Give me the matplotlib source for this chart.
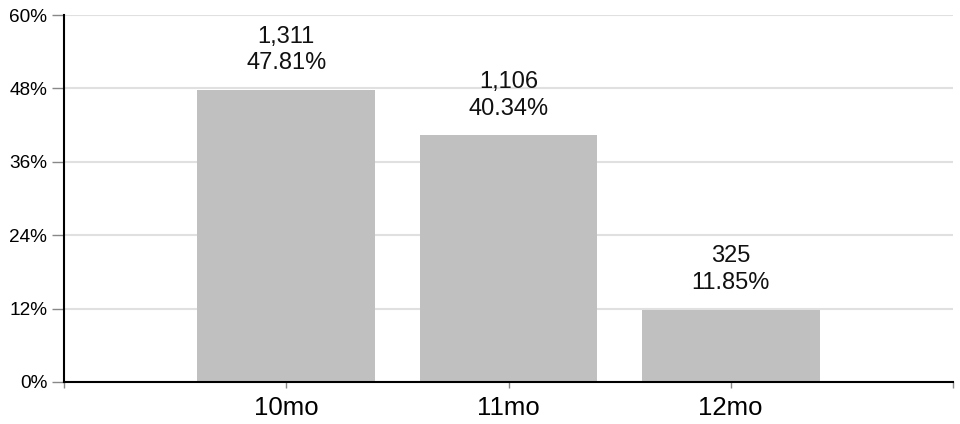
import matplotlib.pyplot as plt

plt.rcParams['font.family'] = ['Liberation Sans', 'DejaVu Sans']

categories = ["10mo", "11mo", "12mo"]
counts = [1311, 1106, 325]
percents = [47.81, 40.34, 11.85]
y_ticks = [0, 12, 24, 36, 48, 60]

fig = plt.figure(figsize=(9.6, 4.24), dpi=100)
ax = fig.add_axes([64 / 960, 42 / 424, 889 / 960, 367 / 424])

positions = [1, 2, 3]
ax.bar(positions, percents, width=0.8, color="#c0c0c0", zorder=2)

for x, c, p in zip(positions, counts, percents):
    ax.annotate(f"{c:,}\n{p:.2f}%", (x, p), xytext=(0, 11), textcoords="offset points",
                ha="center", va="bottom", fontsize=17, linespacing=1.28, color="#111111")

ax.set_xlim(0, 4)
ax.set_ylim(0, 60)
ax.set_yticks(y_ticks)
ax.set_yticklabels([f"{t}%" for t in y_ticks], fontsize=13.7)
ax.set_xticks([0] + positions + [4])
ax.set_xticklabels([""] + categories + [""], fontsize=18.5)

ax.grid(axis="y", color="#e0e0e0", linewidth=1.5, zorder=0)
ax.set_axisbelow(True)
for s in ["top", "right"]:
    ax.spines[s].set_visible(False)
for s in ["left", "bottom"]:
    ax.spines[s].set_linewidth(1.5)
    ax.spines[s].set_color("black")
    ax.spines[s].set_zorder(3)

ax.tick_params(axis="y", length=9, color="#888888", width=1, pad=3)
ax.tick_params(axis="x", length=4, color="#888888", width=1, pad=6)

fig.savefig("out.png", dpi=100)
